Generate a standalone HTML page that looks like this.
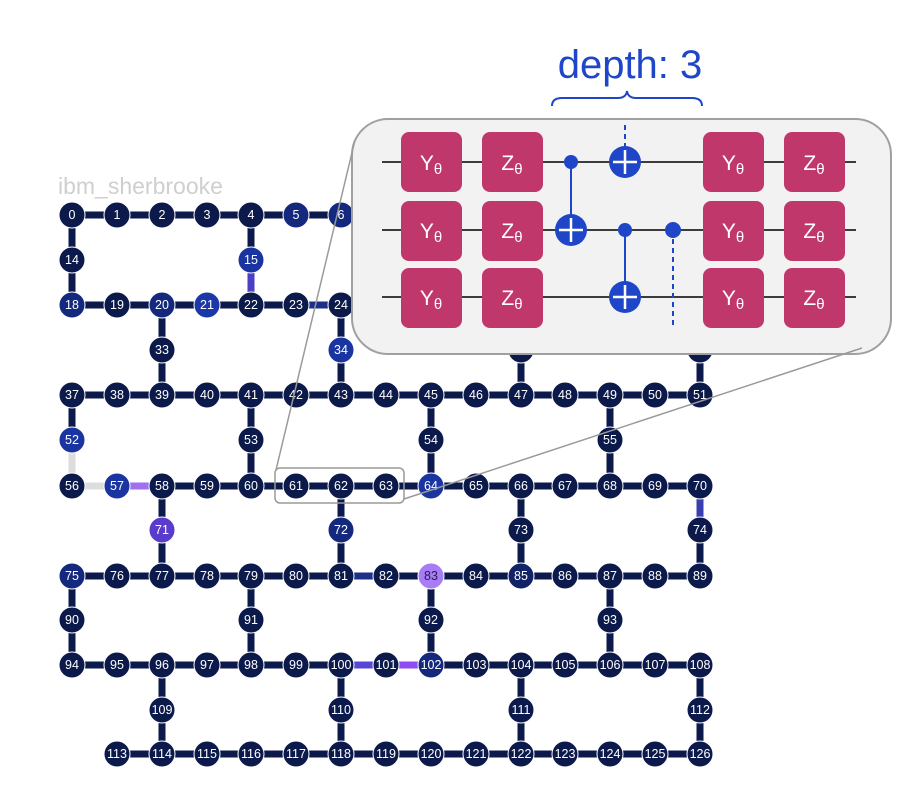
<!DOCTYPE html>
<html><head><meta charset="utf-8"><style>
html,body{margin:0;padding:0;background:#fff;}
svg{display:block;font-family:"Liberation Sans",sans-serif;}
.n circle{fill:#0c1a4b;stroke:#fff;stroke-width:1;}
.n text{fill:#fff;font-size:12.5px;text-anchor:middle;dominant-baseline:central;}
.b circle{fill:#14297e;}
.g text{fill:#fff;font-size:21px;text-anchor:middle;}
</style></head><body>
<svg width="910" height="804" viewBox="0 0 910 804">
<text x="58" y="194" font-size="23" fill="#cfcfcf">ibm_sherbrooke</text>
<g stroke="#0c1a4b" stroke-width="7">
<line x1="72" y1="215" x2="655" y2="215"/>
<line x1="72" y1="305" x2="700" y2="305"/>
<line x1="72" y1="395" x2="700" y2="395"/>
<line x1="72" y1="486" x2="700" y2="486"/>
<line x1="72" y1="576" x2="700" y2="576"/>
<line x1="72" y1="665" x2="700" y2="665"/>
<line x1="117" y1="754" x2="700" y2="754"/>
<path d="M72 215V305M251 215V305M431 215V305M610 215V305M162 305V395M341 305V395M521 305V395M700 305V395M72 395V486M251 395V486M431 395V486M610 395V486M162 486V576M341 486V576M521 486V576M700 486V576M72 576V665M251 576V665M431 576V665M610 576V665M162 665V754M341 665V754M521 665V754M700 665V754"/>
<path d="M251 262V292" stroke="#4b3fc6"/>
<path d="M72 450V476M82 486H105" stroke="#dddddd"/>
<path d="M128 486H150" stroke="#a070f0"/>
<path d="M352 665H374" stroke="#5846d6"/>
<path d="M397 665H419" stroke="#8f4cf5"/>
<path d="M700 497V519" stroke="#3a3fb0"/>
<path d="M307 305H330M352 576H374" stroke="#1c2f8a"/>
</g>
<g class="n">
<g transform="translate(72,215)"><circle r="13"/><text>0</text></g>
<g transform="translate(117,215)"><circle r="13"/><text>1</text></g>
<g transform="translate(162,215)"><circle r="13"/><text>2</text></g>
<g transform="translate(207,215)"><circle r="13"/><text>3</text></g>
<g transform="translate(251,215)"><circle r="13"/><text>4</text></g>
<g class="b" transform="translate(296,215)"><circle r="13"/><text>5</text></g>
<g class="b" transform="translate(341,215)"><circle r="13"/><text>6</text></g>
<g transform="translate(386,215)"><circle r="13"/><text>7</text></g>
<g transform="translate(431,215)"><circle r="13"/><text>8</text></g>
<g transform="translate(476,215)"><circle r="13"/><text>9</text></g>
<g transform="translate(521,215)"><circle r="13"/><text>10</text></g>
<g transform="translate(565,215)"><circle r="13"/><text>11</text></g>
<g transform="translate(610,215)"><circle r="13"/><text>12</text></g>
<g transform="translate(655,215)"><circle r="13"/><text>13</text></g>
<g transform="translate(72,260)"><circle r="13"/><text>14</text></g>
<g class="b" transform="translate(251,260)"><circle r="13" style="fill:#1a35a0"/><text>15</text></g>
<g transform="translate(431,260)"><circle r="13"/><text>16</text></g>
<g transform="translate(610,260)"><circle r="13"/><text>17</text></g>
<g class="b" transform="translate(72,305)"><circle r="13"/><text>18</text></g>
<g transform="translate(117,305)"><circle r="13"/><text>19</text></g>
<g class="b" transform="translate(162,305)"><circle r="13"/><text>20</text></g>
<g class="b" transform="translate(207,305)"><circle r="13" style="fill:#1c37a8"/><text>21</text></g>
<g transform="translate(251,305)"><circle r="13"/><text>22</text></g>
<g transform="translate(296,305)"><circle r="13"/><text>23</text></g>
<g transform="translate(341,305)"><circle r="13"/><text>24</text></g>
<g transform="translate(386,305)"><circle r="13"/><text>25</text></g>
<g transform="translate(431,305)"><circle r="13"/><text>26</text></g>
<g transform="translate(476,305)"><circle r="13"/><text>27</text></g>
<g transform="translate(521,305)"><circle r="13"/><text>28</text></g>
<g transform="translate(565,305)"><circle r="13"/><text>29</text></g>
<g transform="translate(610,305)"><circle r="13"/><text>30</text></g>
<g transform="translate(655,305)"><circle r="13"/><text>31</text></g>
<g transform="translate(700,305)"><circle r="13"/><text>32</text></g>
<g transform="translate(162,350)"><circle r="13"/><text>33</text></g>
<g class="b" transform="translate(341,350)"><circle r="13" style="fill:#1a35a0"/><text>34</text></g>
<g transform="translate(521,350)"><circle r="13"/><text>35</text></g>
<g transform="translate(700,350)"><circle r="13"/><text>36</text></g>
<g transform="translate(72,395)"><circle r="13"/><text>37</text></g>
<g transform="translate(117,395)"><circle r="13"/><text>38</text></g>
<g transform="translate(162,395)"><circle r="13"/><text>39</text></g>
<g transform="translate(207,395)"><circle r="13"/><text>40</text></g>
<g transform="translate(251,395)"><circle r="13"/><text>41</text></g>
<g transform="translate(296,395)"><circle r="13"/><text>42</text></g>
<g transform="translate(341,395)"><circle r="13"/><text>43</text></g>
<g transform="translate(386,395)"><circle r="13"/><text>44</text></g>
<g transform="translate(431,395)"><circle r="13"/><text>45</text></g>
<g transform="translate(476,395)"><circle r="13"/><text>46</text></g>
<g transform="translate(521,395)"><circle r="13"/><text>47</text></g>
<g transform="translate(565,395)"><circle r="13"/><text>48</text></g>
<g transform="translate(610,395)"><circle r="13"/><text>49</text></g>
<g transform="translate(655,395)"><circle r="13"/><text>50</text></g>
<g transform="translate(700,395)"><circle r="13"/><text>51</text></g>
<g class="b" transform="translate(72,440)"><circle r="13" style="fill:#1a35a0"/><text>52</text></g>
<g transform="translate(251,440)"><circle r="13"/><text>53</text></g>
<g transform="translate(431,440)"><circle r="13"/><text>54</text></g>
<g transform="translate(610,440)"><circle r="13"/><text>55</text></g>
<g transform="translate(72,486)"><circle r="13"/><text>56</text></g>
<g class="b" transform="translate(117,486)"><circle r="13" style="fill:#1a35a0"/><text>57</text></g>
<g transform="translate(162,486)"><circle r="13"/><text>58</text></g>
<g transform="translate(207,486)"><circle r="13"/><text>59</text></g>
<g transform="translate(251,486)"><circle r="13"/><text>60</text></g>
<g transform="translate(296,486)"><circle r="13"/><text>61</text></g>
<g transform="translate(341,486)"><circle r="13"/><text>62</text></g>
<g transform="translate(386,486)"><circle r="13"/><text>63</text></g>
<g class="b" transform="translate(431,486)"><circle r="13" style="fill:#1a35a0"/><text>64</text></g>
<g transform="translate(476,486)"><circle r="13"/><text>65</text></g>
<g transform="translate(521,486)"><circle r="13"/><text>66</text></g>
<g transform="translate(565,486)"><circle r="13"/><text>67</text></g>
<g transform="translate(610,486)"><circle r="13"/><text>68</text></g>
<g transform="translate(655,486)"><circle r="13"/><text>69</text></g>
<g transform="translate(700,486)"><circle r="13"/><text>70</text></g>
<g transform="translate(162,530)"><circle r="13" style="fill:#5a3ccc"/><text>71</text></g>
<g class="b" transform="translate(341,530)"><circle r="13"/><text>72</text></g>
<g transform="translate(521,530)"><circle r="13"/><text>73</text></g>
<g transform="translate(700,530)"><circle r="13"/><text>74</text></g>
<g class="b" transform="translate(72,576)"><circle r="13"/><text>75</text></g>
<g transform="translate(117,576)"><circle r="13"/><text>76</text></g>
<g transform="translate(162,576)"><circle r="13"/><text>77</text></g>
<g transform="translate(207,576)"><circle r="13"/><text>78</text></g>
<g transform="translate(251,576)"><circle r="13"/><text>79</text></g>
<g transform="translate(296,576)"><circle r="13"/><text>80</text></g>
<g transform="translate(341,576)"><circle r="13"/><text>81</text></g>
<g transform="translate(386,576)"><circle r="13"/><text>82</text></g>
<g transform="translate(431,576)"><circle r="13" style="fill:#a77cf5"/><text style="fill:#2a1a50">83</text></g>
<g transform="translate(476,576)"><circle r="13"/><text>84</text></g>
<g transform="translate(521,576)"><circle r="13" style="fill:#112266"/><text>85</text></g>
<g transform="translate(565,576)"><circle r="13"/><text>86</text></g>
<g transform="translate(610,576)"><circle r="13"/><text>87</text></g>
<g transform="translate(655,576)"><circle r="13"/><text>88</text></g>
<g transform="translate(700,576)"><circle r="13"/><text>89</text></g>
<g transform="translate(72,620)"><circle r="13"/><text>90</text></g>
<g transform="translate(251,620)"><circle r="13"/><text>91</text></g>
<g transform="translate(431,620)"><circle r="13"/><text>92</text></g>
<g transform="translate(610,620)"><circle r="13"/><text>93</text></g>
<g transform="translate(72,665)"><circle r="13"/><text>94</text></g>
<g transform="translate(117,665)"><circle r="13"/><text>95</text></g>
<g transform="translate(162,665)"><circle r="13"/><text>96</text></g>
<g transform="translate(207,665)"><circle r="13"/><text>97</text></g>
<g transform="translate(251,665)"><circle r="13"/><text>98</text></g>
<g transform="translate(296,665)"><circle r="13"/><text>99</text></g>
<g transform="translate(341,665)"><circle r="13"/><text>100</text></g>
<g transform="translate(386,665)"><circle r="13"/><text>101</text></g>
<g class="b" transform="translate(431,665)"><circle r="13"/><text>102</text></g>
<g transform="translate(476,665)"><circle r="13"/><text>103</text></g>
<g transform="translate(521,665)"><circle r="13"/><text>104</text></g>
<g transform="translate(565,665)"><circle r="13"/><text>105</text></g>
<g transform="translate(610,665)"><circle r="13"/><text>106</text></g>
<g transform="translate(655,665)"><circle r="13"/><text>107</text></g>
<g transform="translate(700,665)"><circle r="13"/><text>108</text></g>
<g transform="translate(162,710)"><circle r="13"/><text>109</text></g>
<g transform="translate(341,710)"><circle r="13"/><text>110</text></g>
<g transform="translate(521,710)"><circle r="13"/><text>111</text></g>
<g transform="translate(700,710)"><circle r="13"/><text>112</text></g>
<g transform="translate(117,754)"><circle r="13"/><text>113</text></g>
<g transform="translate(162,754)"><circle r="13"/><text>114</text></g>
<g transform="translate(207,754)"><circle r="13"/><text>115</text></g>
<g transform="translate(251,754)"><circle r="13"/><text>116</text></g>
<g transform="translate(296,754)"><circle r="13"/><text>117</text></g>
<g transform="translate(341,754)"><circle r="13"/><text>118</text></g>
<g transform="translate(386,754)"><circle r="13"/><text>119</text></g>
<g transform="translate(431,754)"><circle r="13"/><text>120</text></g>
<g transform="translate(476,754)"><circle r="13"/><text>121</text></g>
<g transform="translate(521,754)"><circle r="13"/><text>122</text></g>
<g transform="translate(565,754)"><circle r="13"/><text>123</text></g>
<g transform="translate(610,754)"><circle r="13"/><text>124</text></g>
<g transform="translate(655,754)"><circle r="13"/><text>125</text></g>
<g transform="translate(700,754)"><circle r="13"/><text>126</text></g>
</g>
<rect x="275" y="468" width="129" height="35" rx="5" fill="none" stroke="#9a9a9a" stroke-width="1.5"/>
<rect x="352" y="119" width="539" height="235" rx="36" fill="#f2f2f2" stroke="#a0a0a0" stroke-width="2"/>
<line x1="276" y1="470" x2="355" y2="140" stroke="#9a9a9a" stroke-width="1.5"/>
<line x1="404" y1="499" x2="862" y2="348" stroke="#9a9a9a" stroke-width="1.5"/>
<text x="630" y="78" font-size="40" fill="#1f45c8" text-anchor="middle">depth: 3</text>
<path d="M552 106 Q552 98 562 98 L618 98 Q626 98 627 91 Q628 98 636 98 L692 98 Q702 98 702 106" fill="none" stroke="#1f45c8" stroke-width="2"/>
<g stroke="#000" stroke-width="1.5">
<line x1="382" y1="162" x2="856" y2="162"/>
<line x1="382" y1="230" x2="856" y2="230"/>
<line x1="382" y1="297" x2="856" y2="297"/>
</g>
<g fill="#c0386b">
<rect x="401" y="132" width="61" height="60" rx="8"/><rect x="482" y="132" width="61" height="60" rx="8"/><rect x="703" y="132" width="61" height="60" rx="8"/><rect x="784" y="132" width="61" height="60" rx="8"/>
<rect x="401" y="201" width="61" height="60" rx="8"/><rect x="482" y="201" width="61" height="60" rx="8"/><rect x="703" y="201" width="61" height="60" rx="8"/><rect x="784" y="201" width="61" height="60" rx="8"/>
<rect x="401" y="268" width="61" height="60" rx="8"/><rect x="482" y="268" width="61" height="60" rx="8"/><rect x="703" y="268" width="61" height="60" rx="8"/><rect x="784" y="268" width="61" height="60" rx="8"/>
</g>
<g class="g">
<text x="431" y="170">Y<tspan font-size="15" dy="4">θ</tspan></text><text x="512" y="170">Z<tspan font-size="15" dy="4">θ</tspan></text><text x="733" y="170">Y<tspan font-size="15" dy="4">θ</tspan></text><text x="814" y="170">Z<tspan font-size="15" dy="4">θ</tspan></text>
<text x="431" y="238">Y<tspan font-size="15" dy="4">θ</tspan></text><text x="512" y="238">Z<tspan font-size="15" dy="4">θ</tspan></text><text x="733" y="238">Y<tspan font-size="15" dy="4">θ</tspan></text><text x="814" y="238">Z<tspan font-size="15" dy="4">θ</tspan></text>
<text x="431" y="305">Y<tspan font-size="15" dy="4">θ</tspan></text><text x="512" y="305">Z<tspan font-size="15" dy="4">θ</tspan></text><text x="733" y="305">Y<tspan font-size="15" dy="4">θ</tspan></text><text x="814" y="305">Z<tspan font-size="15" dy="4">θ</tspan></text>
</g>
<g stroke="#1f45c8" stroke-width="2" fill="#1f45c8">
<line x1="571" y1="162" x2="571" y2="230"/>
<line x1="625" y1="230" x2="625" y2="297"/>
<line x1="625" y1="125" x2="625" y2="162" stroke-dasharray="5,4"/>
<line x1="673" y1="230" x2="673" y2="328" stroke-dasharray="5,4"/>
<circle cx="571" cy="162" r="7" stroke="none"/>
<circle cx="625" cy="230" r="7" stroke="none"/>
<circle cx="673" cy="230" r="8" stroke="none"/>
<circle cx="571" cy="230" r="16" stroke="none"/>
<circle cx="625" cy="162" r="16" stroke="none"/>
<circle cx="625" cy="297" r="16" stroke="none"/>
</g>
<g stroke="#fff" stroke-width="2.5">
<path d="M559 230H583M571 218V242M613 162H637M625 150V174M613 297H637M625 285V309"/>
</g>
</svg>
</body></html>
